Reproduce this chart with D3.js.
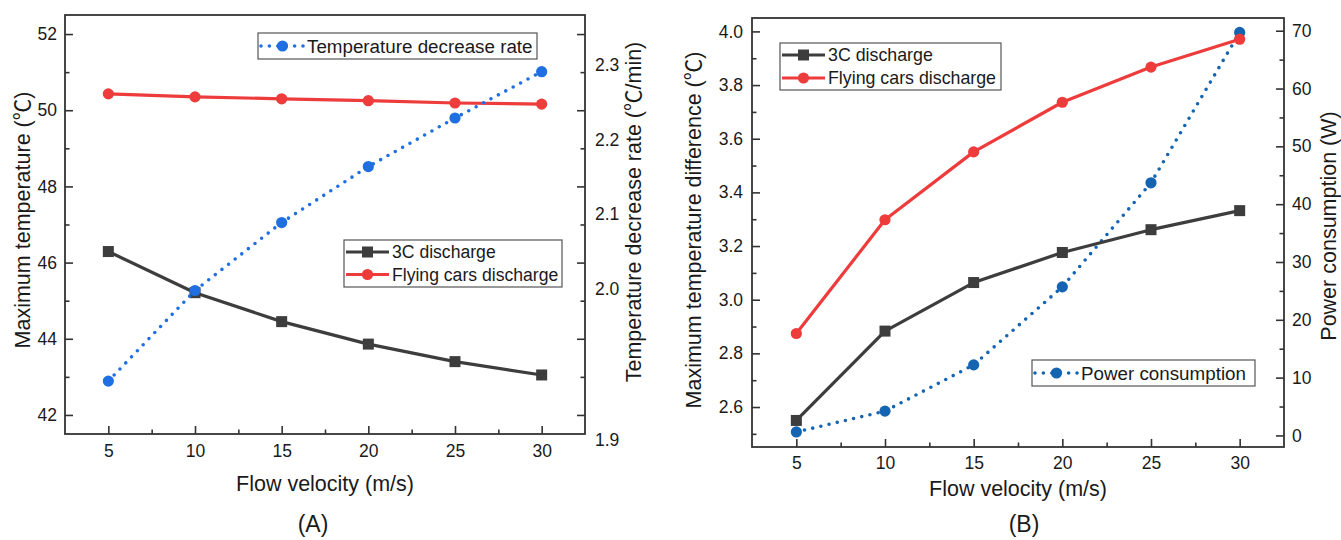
<!DOCTYPE html>
<html><head><meta charset="utf-8">
<script src="https://cdn.jsdelivr.net/npm/d3@7"></script>
<style>
body{margin:0;background:#fff}
svg{display:block}
text{font-family:"Liberation Sans",Arial,"DejaVu Sans","Noto Sans CJK SC",sans-serif;fill:#1a1a1a}
</style>
</head><body>
<svg id="c" width="1341" height="540"></svg>
<script>
// ---------- data ----------
const velocity = [5, 10, 15, 20, 25, 30];
const xTicks = [5, 10, 15, 20, 25, 30];
const xMinorTicks = [7.5, 12.5, 17.5, 22.5, 27.5];

// Panel A
const aMaxTemp3C = [46.29, 45.21, 44.45, 43.86, 43.40, 43.05];
const aMaxTempFlying = [50.43, 50.35, 50.30, 50.25, 50.19, 50.16];
const aDecreaseRate = [1.939, 1.999, 2.089, 2.164, 2.229, 2.291];
const aLeftTicks = [42, 44, 46, 48, 50, 52];
const aLeftMinor = [43, 45, 47, 49, 51];
const aRightTicks = [1.9, 2.0, 2.1, 2.2, 2.3];

// Panel B
const bTempDiff3C = [2.550, 2.883, 3.064, 3.176, 3.261, 3.332];
const bTempDiffFlying = [2.874, 3.298, 3.551, 3.736, 3.867, 3.971];
const bPower = [0.6, 4.2, 12.2, 25.7, 43.7, 69.7];
const bLeftTicks = [2.6, 2.8, 3.0, 3.2, 3.4, 3.6, 3.8, 4.0];
const bLeftMinor = [2.5, 2.7, 2.9, 3.1, 3.3, 3.5, 3.7, 3.9];
const bRightTicks = [0, 10, 20, 30, 40, 50, 60, 70];
const bRightMinor = [5, 15, 25, 35, 45, 55, 65];

const seriesNames = {s3C: "3C discharge", fly: "Flying cars discharge",
  rate: "Temperature decrease rate", power: "Power consumption"};

// ---------- styles ----------
const GRAY = "#3d3d3d", RED = "#ee3b3b", BLUE_A = "#1f6fe3", BLUE_B = "#1464b2";
const AXIS = "#333";
const svg = d3.select("#c");

function frame(g, x0, x1, y0, y1) {
  g.append("rect").attr("x", x0).attr("y", y0).attr("width", x1 - x0).attr("height", y1 - y0)
    .attr("fill", "none").attr("stroke", AXIS).attr("stroke-width", 1.8);
}
function styleAxis(sel, fs) {
  sel.select(".domain").remove();
  sel.selectAll(".tick line").attr("stroke", AXIS).attr("stroke-width", 1.6);
  sel.selectAll("text").attr("font-size", fs).attr("fill", "#1a1a1a")
    .style("font-family", '"Liberation Sans",Arial,sans-serif');
}
function addAxis(g, axis, tx, ty, fs) {
  const s = g.append("g").attr("transform", `translate(${tx},${ty})`).call(axis);
  styleAxis(s, fs || 17.5);
  return s;
}
function solidLine(g, xs, ys, xv, yv, color) {
  const line = d3.line().x((d, i) => xs(xv[i])).y(d => ys(d));
  g.append("path").datum(yv).attr("d", line).attr("fill", "none")
    .attr("stroke", color).attr("stroke-width", 3.2).attr("stroke-linejoin", "round");
}
function dottedLine(g, xs, ys, xv, yv, color) {
  const line = d3.line().x((d, i) => xs(xv[i])).y(d => ys(d));
  g.append("path").datum(yv).attr("d", line).attr("fill", "none")
    .attr("stroke", color).attr("stroke-width", 3.6).attr("stroke-linecap", "round")
    .attr("stroke-dasharray", "0 8.4");
}
function squares(g, xs, ys, xv, yv, color) {
  g.selectAll(null).data(yv).enter().append("rect")
    .attr("x", (d, i) => xs(xv[i]) - 5.5).attr("y", d => ys(d) - 5.5)
    .attr("width", 11).attr("height", 11).attr("fill", color);
}
function circles(g, xs, ys, xv, yv, color) {
  g.selectAll(null).data(yv).enter().append("circle")
    .attr("cx", (d, i) => xs(xv[i])).attr("cy", d => ys(d)).attr("r", 5.6).attr("fill", color);
}
function legendBox(g, x, y, w, h) {
  g.append("rect").attr("x", x).attr("y", y).attr("width", w).attr("height", h)
    .attr("fill", "#fff").attr("stroke", "#555").attr("stroke-width", 1.2);
}
function legendRow(g, x, y, label, color, kind, dotted, fs) {
  const l = g.append("line").attr("x1", x).attr("x2", x + 43).attr("y1", y).attr("y2", y)
    .attr("stroke", color);
  if (dotted) l.attr("stroke-width", 3.6).attr("stroke-linecap", "round").attr("stroke-dasharray", "0 8.4");
  else l.attr("stroke-width", 3.2);
  if (kind === "sq") g.append("rect").attr("x", x + 21.5 - 5.5).attr("y", y - 5.5).attr("width", 11).attr("height", 11).attr("fill", color);
  else g.append("circle").attr("cx", x + 21.5).attr("cy", y).attr("r", 5.6).attr("fill", color);
  g.append("text").attr("x", x + 46).attr("y", y).attr("dy", "0.36em").attr("font-size", fs || 18).text(label);
}
// title text; the "℃" sign is drawn in a CJK font like the original
function title(g, x, y, txt, rot, fs) {
  const t = g.append("text").attr("transform", `translate(${x},${y}) rotate(${rot || 0})`)
    .attr("text-anchor", "middle").attr("dy", "0.36em").attr("font-size", fs || 21.5);
  const parts = txt.split("℃");
  parts.forEach((p, i) => {
    t.append("tspan").text(p);
    if (i < parts.length - 1)
      t.append("tspan").style("font-family", '"Noto Sans CJK SC","DejaVu Sans",sans-serif').text("℃");
  });
}

// ================= Panel A =================
{
  const L = 65, R = 585, T = 15, B = 434;
  const g = svg.append("g");
  const x = d3.scaleLinear().domain([2.5, 32.5]).range([L, R]);
  const yL = d3.scaleLinear().domain([41.5, 52.5]).range([B, T]);
  const yR = d3.scaleLinear().domain([1.9, 2.0, 2.3, 2.366]).range([440, 289, 65, T]);

  addAxis(g, d3.axisBottom(x).tickValues(xTicks).tickSizeInner(-8).tickSizeOuter(0).tickPadding(11), 0, B);
  addAxis(g, d3.axisBottom(x).tickValues(xMinorTicks).tickSizeInner(-4.5).tickSizeOuter(0).tickFormat(""), 0, B);
  addAxis(g, d3.axisLeft(yL).tickValues(aLeftTicks).tickSizeInner(-8).tickSizeOuter(0).tickPadding(8), L, 0);
  addAxis(g, d3.axisLeft(yL).tickValues(aLeftMinor).tickSizeInner(-4.5).tickSizeOuter(0).tickFormat(""), L, 0);
  // right side: mirrored tick marks, labels of the rate axis
  addAxis(g, d3.axisLeft(yL).tickValues(aLeftTicks).tickSizeInner(8).tickSizeOuter(0).tickFormat(""), R, 0);
  addAxis(g, d3.axisLeft(yL).tickValues(aLeftMinor).tickSizeInner(4.5).tickSizeOuter(0).tickFormat(""), R, 0);
  addAxis(g, d3.axisRight(yR).tickValues(aRightTicks).tickSize(0).tickPadding(10).tickFormat(d3.format(".1f")), R, 0);
  frame(g, L, R, T, B);

  solidLine(g, x, yL, velocity, aMaxTemp3C, GRAY);
  squares(g, x, yL, velocity, aMaxTemp3C, GRAY);
  solidLine(g, x, yL, velocity, aMaxTempFlying, RED);
  circles(g, x, yL, velocity, aMaxTempFlying, RED);
  dottedLine(g, x, yR, velocity, aDecreaseRate, BLUE_A);
  circles(g, x, yR, velocity, aDecreaseRate, BLUE_A);

  legendBox(g, 258, 33, 279, 26);
  legendRow(g, 261, 46, seriesNames.rate, BLUE_A, "c", true, 18.8);
  legendBox(g, 344, 240, 218, 47);
  legendRow(g, 346, 252, seriesNames.s3C, GRAY, "sq", false, 17.6);
  legendRow(g, 346, 274.5, seriesNames.fly, RED, "c", false, 17.6);

  title(g, 22, 220, "Maximum temperature (℃)", -90);
  title(g, 633, 212, "Temperature decrease rate (℃/min)", -90);
  title(g, 325, 483, "Flow velocity (m/s)", 0);
  title(g, 313, 524, "(A)", 0, 23);
}

// ================= Panel B =================
{
  const L = 752, R = 1284, T = 18, B = 447;
  const g = svg.append("g");
  const x = d3.scaleLinear().domain([2.5, 32.5]).range([L, R]);
  const yL = d3.scaleLinear().domain([2.451, 4.05]).range([B, T]);
  const yR = d3.scaleLinear().domain([-2.0, 72.2]).range([B, T]);

  addAxis(g, d3.axisBottom(x).tickValues(xTicks).tickSizeInner(-8).tickSizeOuter(0).tickPadding(10), 0, B);
  addAxis(g, d3.axisBottom(x).tickValues(xMinorTicks).tickSizeInner(-4.5).tickSizeOuter(0).tickFormat(""), 0, B);
  addAxis(g, d3.axisLeft(yL).tickValues(bLeftTicks).tickSizeInner(-8).tickSizeOuter(0).tickPadding(9).tickFormat(d3.format(".1f")), L, 0);
  addAxis(g, d3.axisLeft(yL).tickValues(bLeftMinor).tickSizeInner(-4.5).tickSizeOuter(0).tickFormat(""), L, 0);
  addAxis(g, d3.axisRight(yR).tickValues(bRightTicks).tickSizeInner(-8).tickSizeOuter(0).tickPadding(8), R, 0);
  addAxis(g, d3.axisRight(yR).tickValues(bRightMinor).tickSizeInner(-4.5).tickSizeOuter(0).tickFormat(""), R, 0);
  frame(g, L, R, T, B);

  dottedLine(g, x, yR, velocity, bPower, BLUE_B);
  circles(g, x, yR, velocity, bPower, BLUE_B);
  solidLine(g, x, yL, velocity, bTempDiff3C, GRAY);
  squares(g, x, yL, velocity, bTempDiff3C, GRAY);
  solidLine(g, x, yL, velocity, bTempDiffFlying, RED);
  circles(g, x, yL, velocity, bTempDiffFlying, RED);

  legendBox(g, 780, 43, 221, 47);
  legendRow(g, 782, 55, seriesNames.s3C, GRAY, "sq", false, 17.8);
  legendRow(g, 782, 78, seriesNames.fly, RED, "c", false, 17.8);
  legendBox(g, 1032, 360, 223, 26);
  legendRow(g, 1035, 373, seriesNames.power, BLUE_B, "c", true, 18.8);

  title(g, 693, 230, "Maximum temperature difference (℃)", -90);
  title(g, 1328, 226, "Power consumption (W)", -90);
  title(g, 1018, 488, "Flow velocity (m/s)", 0);
  title(g, 1024, 524, "(B)", 0, 23);
}
</script>
</body></html>
